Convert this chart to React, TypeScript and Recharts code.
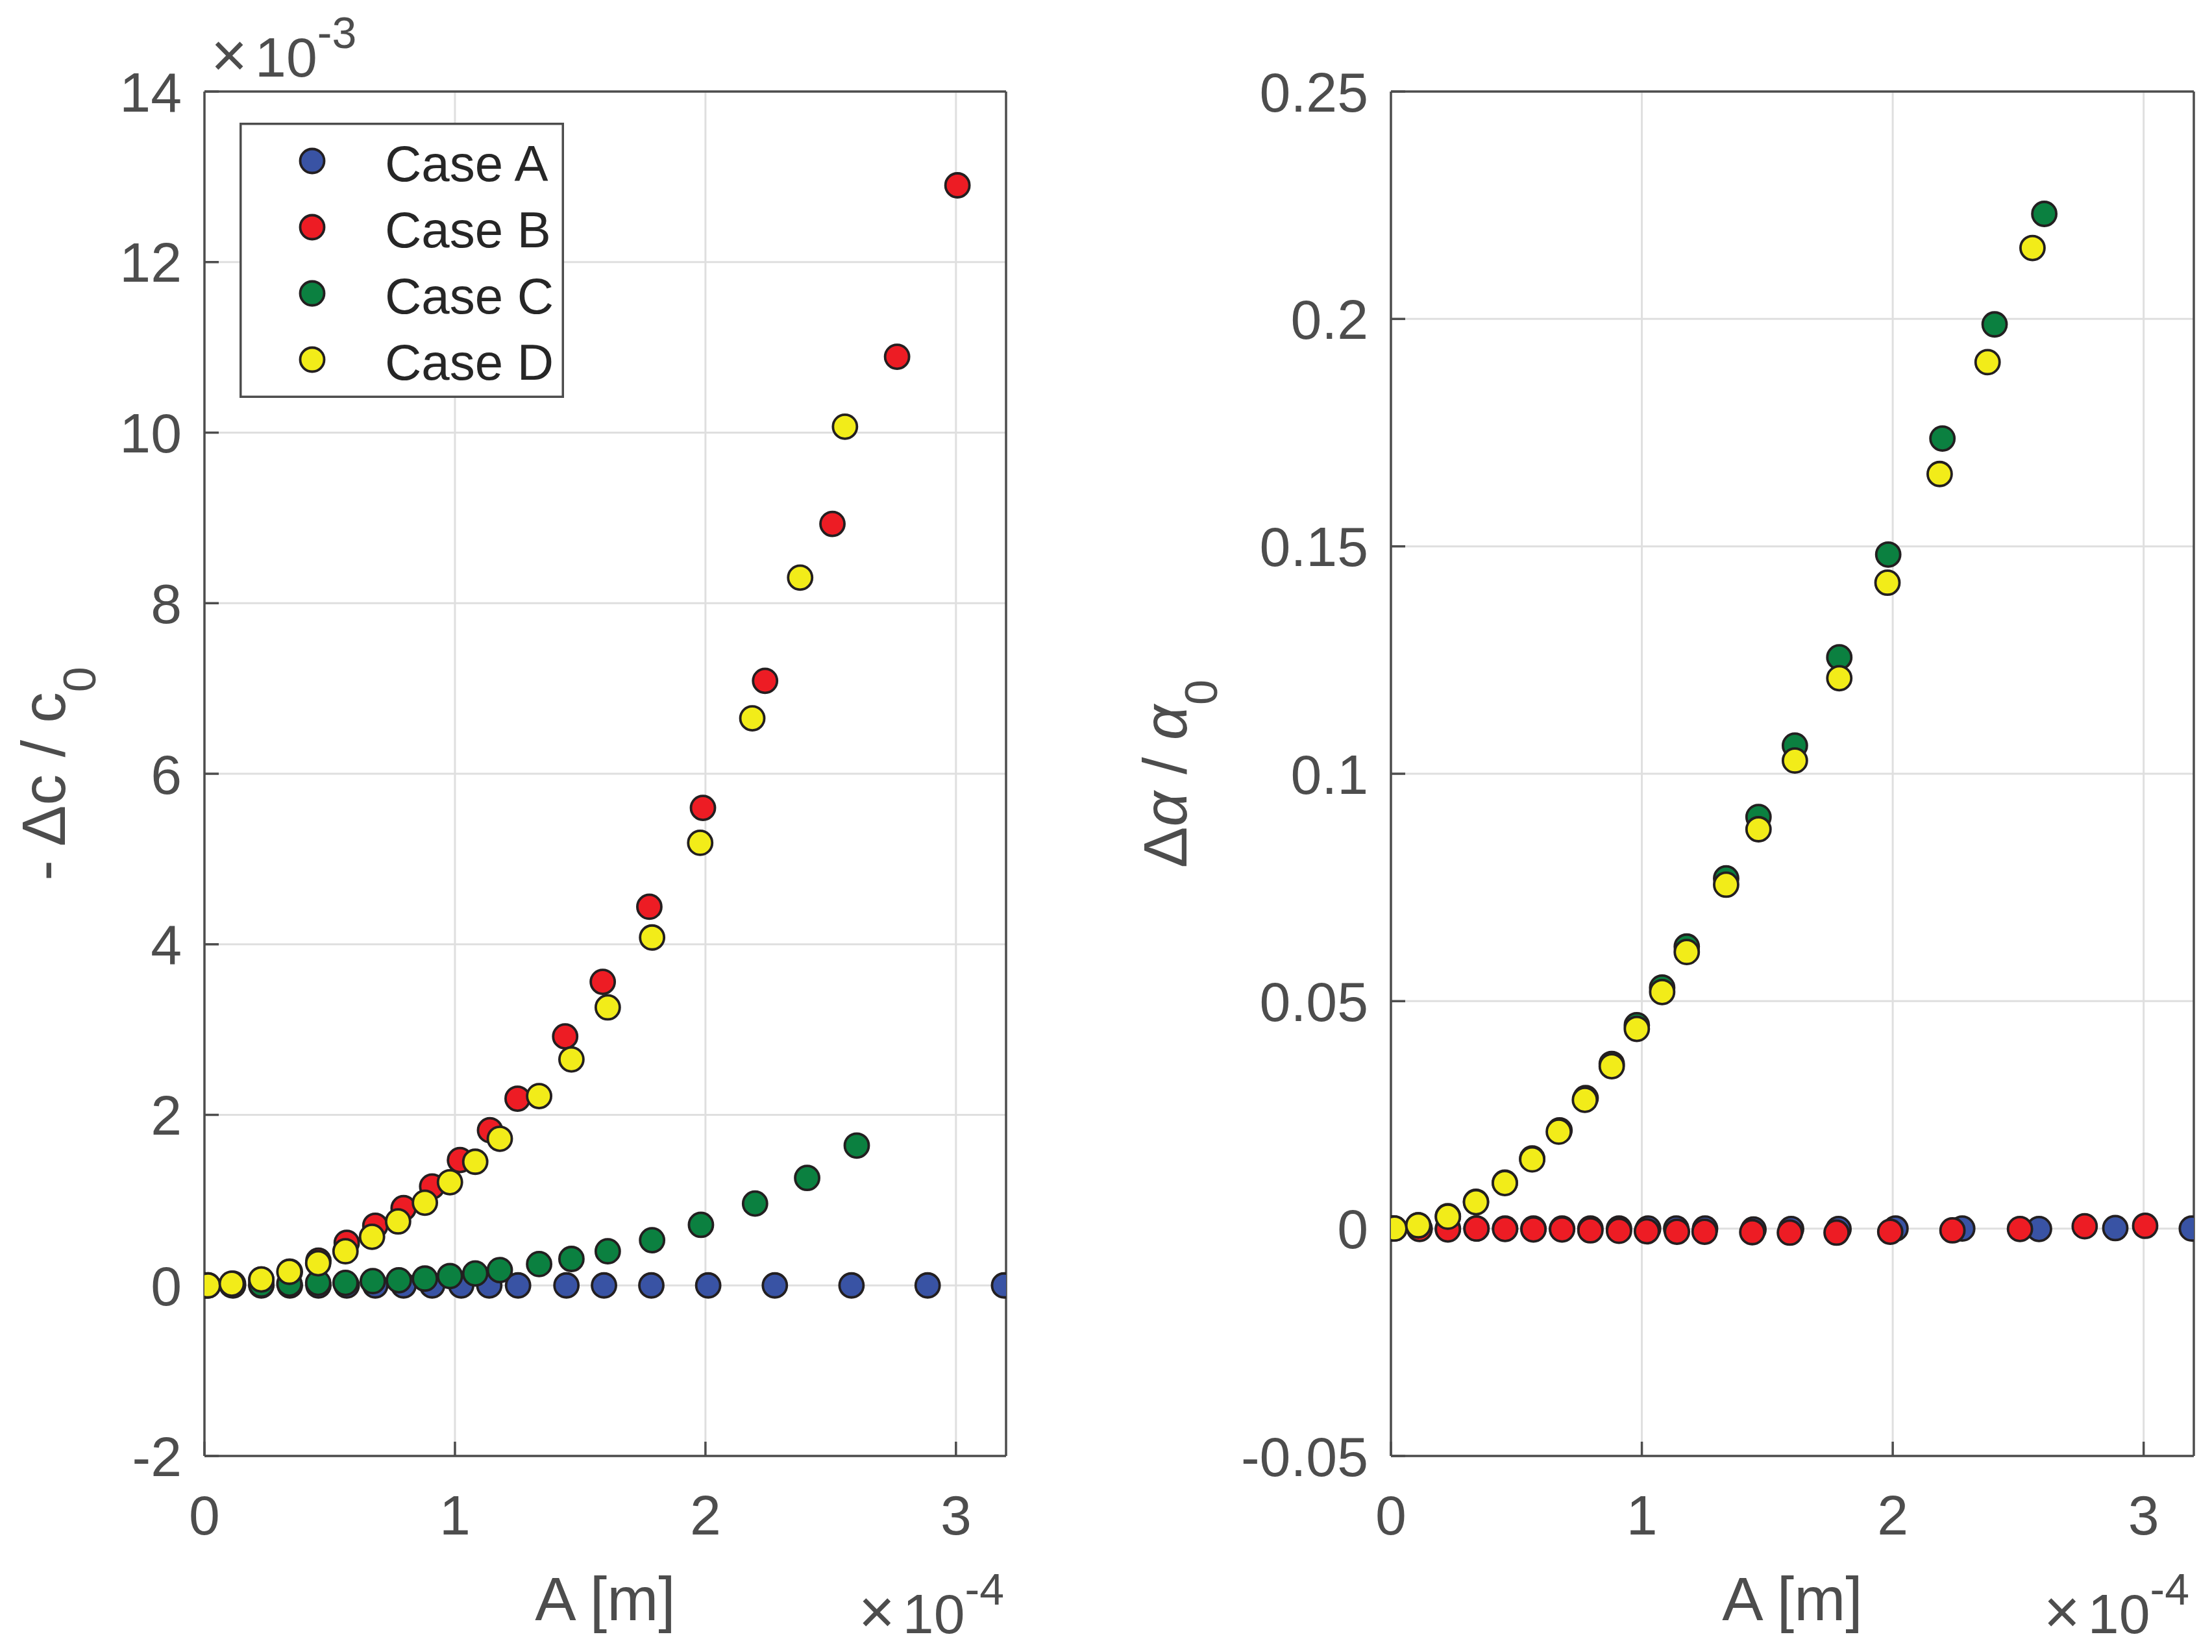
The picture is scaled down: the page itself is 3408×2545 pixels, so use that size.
import React from 'react';
import { ScatterChart, Scatter, XAxis, YAxis, CartesianGrid, Legend, Label } from 'recharts';

// amplitude A in units of 1e-4 m
const caseA_x = [0, 0.114, 0.227, 0.341, 0.455, 0.568, 0.682, 0.795, 0.909, 1.025, 1.137, 1.252, 1.445, 1.595, 1.784, 2.011, 2.277, 2.583, 2.887, 3.192];
const caseB_x = [0, 0.114, 0.227, 0.341, 0.455, 0.568, 0.682, 0.795, 0.909, 1.02, 1.14, 1.25, 1.44, 1.59, 1.776, 1.99, 2.238, 2.507, 2.765, 3.006];
const caseC_x = [0.014, 0.109, 0.227, 0.339, 0.454, 0.563, 0.672, 0.776, 0.88, 0.98, 1.081, 1.179, 1.336, 1.465, 1.61, 1.787, 1.982, 2.198, 2.406, 2.604];
const caseD_x = [0.014, 0.109, 0.227, 0.339, 0.454, 0.563, 0.669, 0.773, 0.88, 0.98, 1.081, 1.179, 1.336, 1.465, 1.61, 1.787, 1.979, 2.187, 2.378, 2.557];

// -dc/c0 in units of 1e-3
const caseA_dc = [0, 0, 0, 0, 0, 0, 0, 0, 0, 0, 0, 0, 0, 0, 0, 0, 0, 0, 0, 0];
const caseB_dc = [0, 0.02, 0.07, 0.16, 0.29, 0.5, 0.7, 0.906, 1.16, 1.47, 1.82, 2.19, 2.92, 3.56, 4.44, 5.6, 7.09, 8.93, 10.89, 12.9];
const caseC_dc = [0, 0.005, 0.01, 0.02, 0.03, 0.03, 0.05, 0.06, 0.08, 0.11, 0.14, 0.18, 0.25, 0.31, 0.4, 0.53, 0.71, 0.96, 1.26, 1.64];
const caseD_dc = [0, 0.02, 0.07, 0.16, 0.26, 0.4, 0.57, 0.75, 0.97, 1.21, 1.45, 1.72, 2.22, 2.65, 3.26, 4.08, 5.19, 6.65, 8.3, 10.07];

// d alpha / alpha0
const caseA_da = [0, 0, 0, 0, 0, 0, 0, 0, 0, 0, 0, 0, -0.0002, -0.0001, -0.0001, 0, 0, -0.0001, 0.0001, 0];
const caseB_da = [0, -0.0001, -0.0002, 0, -0.0001, -0.0002, -0.0002, -0.0004, -0.0005, -0.0006, -0.0007, -0.0007, -0.0008, -0.0009, -0.0009, -0.0007, -0.0004, -0.0001, 0.0005, 0.0006];
const caseC_da = [0, 0.0007, 0.0027, 0.0059, 0.0101, 0.0154, 0.0216, 0.0287, 0.0362, 0.0447, 0.053, 0.062, 0.077, 0.0905, 0.1062, 0.1256, 0.1482, 0.1737, 0.1988, 0.2231];
const caseD_da = [0, 0.0007, 0.0026, 0.0058, 0.01, 0.0152, 0.0213, 0.0283, 0.0357, 0.0439, 0.052, 0.0608, 0.0756, 0.0878, 0.1029, 0.121, 0.142, 0.1659, 0.1905, 0.2156];

const caseNames = ['Case A', 'Case B', 'Case C', 'Case D'];
const caseColors = ['#3953a4', '#ed1c24', '#0b8040', '#f2ec19'];

const xTicks = [0, 1, 2, 3];
const dcTicks = [-2, 0, 2, 4, 6, 8, 10, 12, 14];
const dcTickLabels = ['-2', '0', '2', '4', '6', '8', '10', '12', '14'];
const daTicks = [-0.05, 0, 0.05, 0.1, 0.15, 0.2, 0.25];
const daTickLabels = ['-0.05', '0', '0.05', '0.1', '0.15', '0.2', '0.25'];

const FONT = "'Liberation Sans', Arial, Helvetica, sans-serif";
const AXIS = '#4d4d4d';
const GRID = '#dfdfdf';
const EDGE = '#231f20';

const zip = (xs: number[], ys: number[]) => xs.map((x, i) => ({ x, y: ys[i] }));

const dcSeries = [zip(caseA_x, caseA_dc), zip(caseB_x, caseB_dc), zip(caseC_x, caseC_dc), zip(caseD_x, caseD_dc)];
const daSeries = [zip(caseA_x, caseA_da), zip(caseB_x, caseB_da), zip(caseC_x, caseC_da), zip(caseD_x, caseD_da)];

const dot = (color: string) => (p: any) => (
  <circle cx={p.cx} cy={p.cy} r={18.5} fill={color} stroke={EDGE} strokeWidth={3.8} />
);

const LegendBox = () => (
  <svg width={500} height={424} style={{ display: 'block' }}>
    <rect x={1.75} y={1.75} width={496.5} height={420.5} fill="#fff" stroke={AXIS} strokeWidth={3.5} />
    {caseNames.map((name, i) => (
      <g key={name}>
        <circle cx={112} cy={59 + 102 * i} r={18.5} fill={caseColors[i]} stroke={EDGE} strokeWidth={3.8} />
        <text x={224} y={90 + 102 * i} fontSize={78} fontFamily={FONT} fill="#262626">{name}</text>
      </g>
    ))}
  </svg>
);

interface PanelProps {
  width: number;
  marginLeft: number;
  marginRight: number;
  series: { x: number; y: number }[][];
  yDomain: [number, number];
  yTicks: number[];
  yTickLabels: string[];
  yLabel: React.ReactNode;
  yLabelOffset: number;
  xExpOffset: number;
  yExp?: boolean;
  legend?: boolean;
}

const Panel: React.FC<PanelProps> = (props) => {
  const tickStyle = { fill: AXIS, fontSize: 86, fontFamily: FONT };

  const xLabel = ({ viewBox }: any) => {
    const { x, y, width } = viewBox;
    return (
      <g fontFamily={FONT} fill={AXIS}>
        <text x={x + width / 2} y={y + 253} textAnchor="middle" fontSize={95}>A [m]</text>
        <text x={x + width - props.xExpOffset} y={y + 273} textAnchor="end" fontSize={86}>
          <tspan fontSize={96}>×</tspan>
          <tspan dx={12}>10</tspan>
          <tspan dy={-44} fontSize={68}>-4</tspan>
        </text>
      </g>
    );
  };

  const yLabel = ({ viewBox }: any) => {
    const { x, y, width, height } = viewBox;
    const left = x + width;
    const lx = left - props.yLabelOffset;
    const ly = y + height / 2;
    return (
      <g fontFamily={FONT} fill={AXIS}>
        <text x={lx} y={ly} transform={`rotate(-90 ${lx} ${ly})`} textAnchor="middle" fontSize={95}>
          {props.yLabel}
        </text>
        {props.yExp && (
          <text x={left + 10} y={y - 23} fontSize={86}>
            <tspan fontSize={96}>×</tspan>
            <tspan dx={12}>10</tspan>
            <tspan dy={-44} fontSize={68}>-3</tspan>
          </text>
        )}
      </g>
    );
  };

  return (
    <ScatterChart
      width={props.width}
      height={2545}
      margin={{ top: 141, right: props.marginRight, bottom: 202, left: props.marginLeft }}
    >
      <CartesianGrid stroke={GRID} strokeWidth={3} horizontalValues={props.yTicks} verticalValues={xTicks} />
      <XAxis
        dataKey="x"
        type="number"
        domain={[0, 3.2]}
        ticks={xTicks}
        allowDataOverflow
        height={100}
        axisLine={{ stroke: AXIS, strokeWidth: 3.5 }}
        tickLine={{ stroke: AXIS, strokeWidth: 3.5 }}
        tickSize={-22}
        tickMargin={82}
        tick={tickStyle}
      >
        <Label content={xLabel} />
      </XAxis>
      <XAxis
        xAxisId="top"
        orientation="top"
        dataKey="x"
        type="number"
        domain={[0, 3.2]}
        ticks={xTicks}
        allowDataOverflow
        mirror
        axisLine={{ stroke: AXIS, strokeWidth: 3.5 }}
        tickLine={{ stroke: AXIS, strokeWidth: 3.5 }}
        tickSize={22}
        tick={false}
      />
      <YAxis
        dataKey="y"
        type="number"
        domain={props.yDomain}
        ticks={props.yTicks}
        allowDataOverflow
        width={200}
        axisLine={{ stroke: AXIS, strokeWidth: 3.5 }}
        tickLine={{ stroke: AXIS, strokeWidth: 3.5 }}
        tickSize={-22}
        tickMargin={57}
        tick={tickStyle}
        tickFormatter={(v: number, i: number) => props.yTickLabels[i] ?? String(v)}
      >
        <Label content={yLabel} />
      </YAxis>
      <YAxis
        yAxisId="right"
        orientation="right"
        dataKey="y"
        type="number"
        domain={props.yDomain}
        ticks={props.yTicks}
        allowDataOverflow
        mirror
        axisLine={{ stroke: AXIS, strokeWidth: 3.5 }}
        tickLine={{ stroke: AXIS, strokeWidth: 3.5 }}
        tickSize={22}
        tick={false}
      />
      {props.series.map((data, i) => (
        <Scatter
          key={caseNames[i]}
          name={caseNames[i]}
          data={data}
          fill={caseColors[i]}
          shape={dot(caseColors[i])}
          isAnimationActive={false}
        />
      ))}
      {props.legend && (
        <Legend
          layout="horizontal"
          verticalAlign="middle"
          align="center"
          wrapperStyle={{ left: 369, top: 189, width: 500, height: 424 }}
          content={() => <LegendBox />}
        />
      )}
    </ScatterChart>
  );
};

export default function App() {
  return (
    <div style={{ position: 'absolute', left: 0, top: 0, width: 3408, height: 2545, background: '#fff' }}>
      <div style={{ position: 'absolute', left: 0, top: 0 }}>
        <Panel
          width={1700}
          marginLeft={115}
          marginRight={150}
          series={dcSeries}
          yDomain={[-2, 14]}
          yTicks={dcTicks}
          yTickLabels={dcTickLabels}
          yLabel={<>- Δc / c<tspan dy={47} fontSize={70}>0</tspan></>}
          yLabelOffset={215}
          xExpOffset={3}
          yExp
          legend
        />
      </div>
      <div style={{ position: 'absolute', left: 1700, top: 0 }}>
        <Panel
          width={1708}
          marginLeft={243}
          marginRight={28}
          series={daSeries}
          yDomain={[-0.05, 0.25]}
          yTicks={daTicks}
          yTickLabels={daTickLabels}
          yLabel={<>Δ<tspan fontStyle="italic">α</tspan> / <tspan fontStyle="italic">α</tspan><tspan dy={47} fontSize={70}>0</tspan></>}
          yLabelOffset={315}
          xExpOffset={7}
        />
      </div>
    </div>
  );
}
